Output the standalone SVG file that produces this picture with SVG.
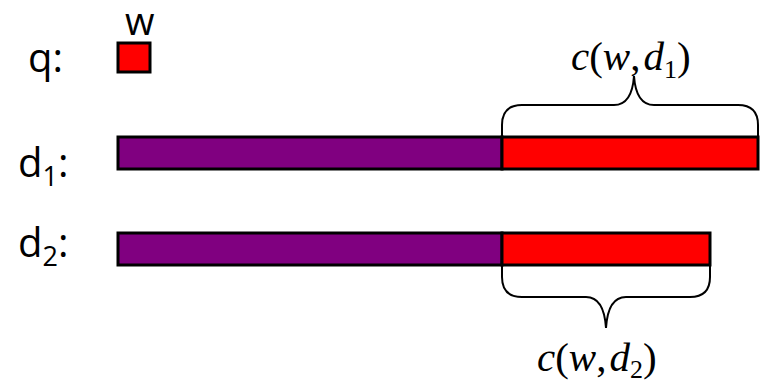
<svg xmlns="http://www.w3.org/2000/svg" width="764" height="386" viewBox="0 0 764 386">
<style>
.lbl{font-family:"Open Sans","Noto Sans","Liberation Sans",sans-serif;font-size:40px;fill:#000}
.sub{font-size:27px}
.math{font-family:"Liberation Serif","Times New Roman",serif;font-size:41px;fill:#000}
.it{font-style:italic}
.msub{font-size:26px}
.bar{stroke:#000;stroke-width:3}
.purple{fill:#800080}
.red{fill:#ff0000}
.brace{fill:none;stroke:#000;stroke-width:2}
</style>
<rect width="764" height="386" fill="#fff"/>
<g id="q">
<text class="lbl" x="28" y="72">q:</text>
<text class="lbl" x="125" y="35" style="font-size:38px">w</text>
<rect class="bar red" x="118" y="43" width="32" height="29"/>
</g>
<g id="d1">
<text class="lbl" x="18" y="177">d<tspan class="sub" dy="9">1</tspan><tspan dy="-9">:</tspan></text>
<rect class="bar purple" x="118" y="137" width="384" height="32"/>
<rect class="bar red" x="502" y="137" width="256" height="32"/>
</g>
<g id="d2">
<text class="lbl" x="18" y="257">d<tspan class="sub" dy="9">2</tspan><tspan dy="-9">:</tspan></text>
<rect class="bar purple" x="118" y="233" width="384" height="32"/>
<rect class="bar red" x="502" y="233" width="208" height="32"/>
</g>
<g id="connectors">
<path class="brace" d="M502,137 L502,125 Q502,105 522,105 L614,105 Q632,105 634,76 Q636,105 654,105 L738,105 Q758,105 758,125 L758,137"/>
<path class="brace" d="M502,265 L502,277 Q502,297 522,297 L586,297 Q604,297 606,328 Q608,297 626,297 L690,297 Q710,297 710,277 L710,265"/>
</g>
<g id="label1">
<text class="math" x="571" y="70"><tspan class="it">c</tspan>(<tspan class="it">w</tspan>,<tspan class="it" dx="3">d</tspan><tspan class="msub" dy="8">1</tspan><tspan dy="-8">)</tspan></text>
</g>
<g id="label2">
<text class="math" x="537" y="371"><tspan class="it">c</tspan>(<tspan class="it">w</tspan>,<tspan class="it" dx="3">d</tspan><tspan class="msub" dy="7">2</tspan><tspan dy="-7">)</tspan></text>
</g>
</svg>
